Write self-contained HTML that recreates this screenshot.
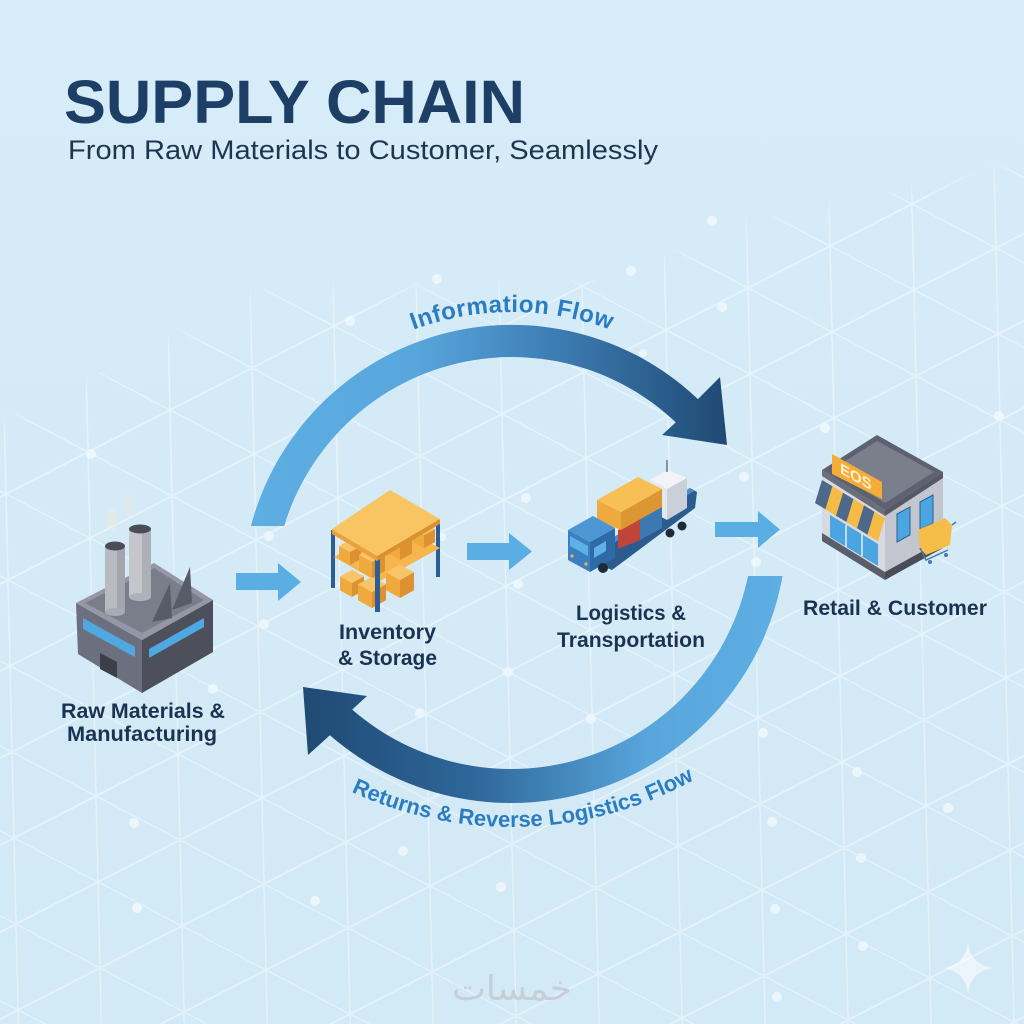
<!DOCTYPE html>
<html><head><meta charset="utf-8"><style>
html,body{margin:0;padding:0;background:#d4ebf7;}
svg{display:block;}
</style></head><body>
<svg width="1024" height="1024" viewBox="0 0 1024 1024" xmlns="http://www.w3.org/2000/svg">
<defs>
  <linearGradient id="bg" x1="0" y1="0" x2="0" y2="1">
    <stop offset="0" stop-color="#d6ecf8"/><stop offset="1" stop-color="#d2e9f6"/>
  </linearGradient>
  <pattern id="lat" patternUnits="userSpaceOnUse" x="0" y="0" width="100" height="100" patternTransform="matrix(0.84,0.44,0.02,0.86,508,672)">
    <path d="M0 0H100M0 100H100M0 0V100M100 0V100M0 100L100 0" stroke="#ffffff" stroke-width="1.6" fill="none"/>
  </pattern>
  <filter id="blur" x="-0.1" y="-0.1" width="1.2" height="1.2"><feGaussianBlur stdDeviation="7"/></filter>
  <mask id="fadeM" maskUnits="userSpaceOnUse" x="0" y="0" width="1024" height="1024">
    <rect width="1024" height="1024" fill="#000"/>
    <polygon points="-40,440 0,428 262,290 440,286 631,280 712,230 968,178 1064,150 1064,1064 -40,1064" fill="#fff" filter="url(#blur)"/>
  </mask>
  <linearGradient id="g1" gradientUnits="userSpaceOnUse" x1="250" y1="0" x2="727" y2="0">
    <stop offset="0" stop-color="#5eaee3"/><stop offset="0.35" stop-color="#58a6dc"/><stop offset="0.62" stop-color="#3f7fb7"/><stop offset="1" stop-color="#1f4a73"/>
  </linearGradient>
  <linearGradient id="g2" gradientUnits="userSpaceOnUse" x1="303" y1="0" x2="783" y2="0">
    <stop offset="0" stop-color="#1f4a73"/><stop offset="0.35" stop-color="#2e6699"/><stop offset="0.72" stop-color="#58a6dc"/><stop offset="1" stop-color="#5eaee3"/>
  </linearGradient>
  <path id="tp1" d="M246.1 498.2 A283 283 0 0 1 777.9 498.2"/>
  <path id="tp2" d="M182.8 637.5 A379 379 0 0 0 839.2 637.5"/>
</defs>

<rect width="1024" height="1024" fill="url(#bg)"/>
<rect width="1024" height="1024" fill="url(#lat)" opacity="0.45" mask="url(#fadeM)"/>

<!-- dots -->
<g fill="#eef8fd" opacity="0.9">
  <circle cx="712" cy="221" r="5"/><circle cx="631" cy="271" r="5"/><circle cx="437" cy="279" r="5"/>
  <circle cx="350" cy="321" r="5"/><circle cx="722" cy="307" r="5"/><circle cx="91" cy="454" r="5"/>
  <circle cx="825" cy="428" r="5"/><circle cx="999" cy="416" r="5"/><circle cx="744" cy="477" r="5"/>
  <circle cx="526" cy="498" r="5"/><circle cx="269" cy="536" r="5"/><circle cx="442" cy="537" r="4"/>
  <circle cx="756" cy="562" r="5"/><circle cx="518" cy="584" r="5"/><circle cx="264" cy="624" r="5"/>
  <circle cx="213" cy="689" r="5"/><circle cx="420" cy="713" r="5"/><circle cx="508" cy="672" r="5"/>
  <circle cx="591" cy="719" r="5"/><circle cx="763" cy="733" r="5"/><circle cx="772" cy="822" r="5"/>
  <circle cx="857" cy="772" r="5"/><circle cx="948" cy="808" r="5"/><circle cx="134" cy="823" r="5"/>
  <circle cx="403" cy="851" r="5"/><circle cx="501" cy="887" r="5"/><circle cx="315" cy="901" r="5"/>
  <circle cx="861" cy="858" r="5"/><circle cx="137" cy="908" r="5"/><circle cx="863" cy="946" r="5"/>
  <circle cx="777" cy="997" r="5"/><circle cx="775" cy="909" r="5"/><circle cx="643" cy="353" r="4"/>
</g>

<!-- title -->
<text x="64" y="123" font-family="Liberation Sans, Arial, sans-serif" font-weight="bold" font-size="61" fill="#1d3f66" textLength="461" lengthAdjust="spacingAndGlyphs">SUPPLY CHAIN</text>
<text x="68" y="159" font-family="Liberation Sans, Arial, sans-serif" font-size="27" fill="#1e3552" textLength="590" lengthAdjust="spacingAndGlyphs">From Raw Materials to Customer, Seamlessly</text>

<!-- information flow arrow -->
<path d="M250.9 526 A270 270 0 0 1 697.9 399.1 L720 377 L727 445 L662 435 L675.8 422.4 A238 238 0 0 0 284.2 526 Z" fill="url(#g1)"/>
<text font-family="Liberation Sans, Arial, sans-serif" font-weight="bold" font-size="24" fill="#2b7dc1" letter-spacing="0.5"><textPath href="#tp1" startOffset="50%" text-anchor="middle">Information Flow</textPath></text>

<!-- returns arrow -->
<path d="M782.6 576 A276 276 0 0 1 329.9 735.3 L308 755 L303 687 L367 696 L352.2 709.6 A242 242 0 0 0 748 576 Z" fill="url(#g2)"/>
<text font-family="Liberation Sans, Arial, sans-serif" font-weight="bold" font-size="22" fill="#2b7dc1"><textPath href="#tp2" startOffset="410" text-anchor="middle">Returns &amp; Reverse Logistics Flow</textPath></text>

<!-- small arrows -->
<g fill="#5aaee3">
  <polygon points="236,573 278,573 278,563 301,582 278,601 278,590 236,590"/>
  <polygon points="467,543 509,543 509,533 532,551.5 509,570 509,560 467,560"/>
  <polygon points="715,522 758,522 758,511 780,529.5 758,548 758,537 715,537"/>
</g>

<!-- factory -->
<g>
  <ellipse cx="112" cy="520" rx="5" ry="12" fill="#ece9e0" opacity="0.55"/>
  <ellipse cx="128" cy="505" rx="5" ry="12" fill="#ece9e0" opacity="0.5"/>
  <polygon points="76,603 142,640 142,693 78,654" fill="#6c6f7d"/>
  <polygon points="142,640 213,600 213,652 142,693" fill="#4d4f5b"/>
  <polygon points="76,603 154,563 213,600 142,640" fill="#9597a4"/>
  <polygon points="85,603 154,568 204,600 142,633" fill="#7a7d8a"/>
  <polygon points="83,618 135,647 135,657 83,629" fill="#4fa8e2"/>
  <polygon points="149,649 204,618 204,627 149,658" fill="#4fa8e2"/>
  <polygon points="100,653 117,662 117,678 100,669" fill="#3c3e48"/>
  <rect x="105" y="546" width="20" height="66" fill="#b9bbc2"/>
  <rect x="117" y="546" width="8" height="66" fill="#a4a6ae"/>
  <ellipse cx="115" cy="612" rx="10" ry="4" fill="#a9abb3"/>
  <ellipse cx="115" cy="546" rx="10" ry="4.5" fill="#4a4d57"/>
  <rect x="129" y="529" width="22" height="68" fill="#c4c6cc"/>
  <rect x="142" y="529" width="9" height="68" fill="#aeb0b8"/>
  <ellipse cx="140" cy="597" rx="11" ry="4" fill="#b0b2ba"/>
  <ellipse cx="140" cy="529" rx="11" ry="4.5" fill="#4a4d57"/>
  <polygon points="152,622 170,583 172,618" fill="#585b68"/>
  <polygon points="172,610 190,567 192,603" fill="#585b68"/>
</g>

<!-- inventory shelf -->
<g>
  <rect x="331" y="530" width="4" height="58" fill="#2c5d96"/>
  <rect x="436" y="520" width="4" height="57" fill="#2c5d96"/>
  <polygon points="334,557 392,524 440,548 378,582" fill="#f5b64e"/>
  <polygon points="352,597 352,583 340,576.4 340,590.4" fill="#f0a93c"/><polygon points="352,597 352,583 364,576.4 364,590.4" fill="#de9130"/><polygon points="352,583 340,576.4 352,569.8 364,576.4" fill="#f7c46a"/>
  <polygon points="400,598 400,580 386,572.3 386,590.3" fill="#f0a93c"/><polygon points="400,598 400,580 414,572.3 414,590.3" fill="#de9130"/><polygon points="400,580 386,572.3 400,564.6 414,572.3" fill="#f7c46a"/>
  <polygon points="372,608 372,592 358,584.3 358,600.3" fill="#f0a93c"/><polygon points="372,608 372,592 386,584.3 386,600.3" fill="#de9130"/><polygon points="372,592 358,584.3 372,576.6 386,584.3" fill="#f7c46a"/>
  <polygon points="350,565 350,552 339,546 339,559" fill="#f0a93c"/><polygon points="350,565 350,552 361,546 361,559" fill="#de9130"/><polygon points="350,552 339,546 350,540 361,546" fill="#f7c46a"/>
  <polygon points="424,548 424,535 413,529 413,542" fill="#f0a93c"/><polygon points="424,548 424,535 435,529 435,542" fill="#de9130"/><polygon points="424,535 413,529 424,522.9 435,529" fill="#f7c46a"/>
  <polygon points="400,560 400,546 388,539.4 388,553.4" fill="#f0a93c"/><polygon points="400,560 400,546 412,539.4 412,553.4" fill="#de9130"/><polygon points="400,546 388,539.4 400,532.8 412,539.4" fill="#f7c46a"/>
  <polygon points="372,578 372,562 359,554.9 359,570.9" fill="#f0a93c"/><polygon points="372,578 372,562 385,554.9 385,570.9" fill="#de9130"/><polygon points="372,562 359,554.9 372,547.8 385,554.9" fill="#f7c46a"/>
  <rect x="375" y="556" width="5" height="56" fill="#2c5d96"/>
  <polygon points="332,529 377,556 377,561 332,534" fill="#e8a23d"/>
  <polygon points="377,556 440,519 440,524 377,561" fill="#d9922f"/>
  <polygon points="332,529 390,490 440,519 377,556" fill="#f9c462"/>
</g>

<!-- truck / ship -->
<g>
  <polygon points="597,548 690,488 697,492 695,508 612,570 600,565" fill="#2c5b8e"/>
  <polygon points="597,548 690,488 694,491 600,552" fill="#4a8ccc"/>
  <circle cx="670" cy="533" r="4.5" fill="#1e2a38"/>
  <circle cx="682" cy="526" r="4.5" fill="#1e2a38"/>
  <polygon points="650,480 667,489 667,520 650,511" fill="#e3e7ee"/>
  <polygon points="667,489 687,478 687,508 667,520" fill="#c9d0da"/>
  <polygon points="650,480 668,470 687,478 667,489" fill="#f1f3f6"/>
  <line x1="667" y1="472" x2="667" y2="460" stroke="#8a93a0" stroke-width="2"/>
  <polygon points="640,519 662,507 662,528 640,540" fill="#3b79b2"/>
  <polygon points="618,530 640,519 640,540 618,549" fill="#c0443a"/>
  <polygon points="597,500 621,512 621,530 597,520" fill="#eeaa3f"/>
  <polygon points="621,512 662,489 662,507 621,530" fill="#dc9634"/>
  <polygon points="597,500 638,477 662,489 621,512" fill="#f7bf55"/>
  <polygon points="590,572 590,542 615,528 615,558" fill="#2e6aa6"/>
  <polygon points="590,572 590,542 568,530 568,560" fill="#3a7fc0"/>
  <polygon points="590,542 568,530 593,516 615,528" fill="#4e95d4"/>
  <polygon points="588,546 570,536 570,546 588,556" fill="#5fb0e6"/>
  <polygon points="594,548 606,541 606,551 594,558" fill="#5fb0e6"/>
  <circle cx="572" cy="556" r="1.6" fill="#f6b544"/><circle cx="586" cy="564" r="1.6" fill="#f6b544"/>
  <circle cx="603" cy="568" r="5" fill="#1e2a38"/>
</g>

<!-- store -->
<g>
  <polygon points="822,470 885,510 885,578 822,538" fill="#d8dae0"/>
  <polygon points="885,510 943,472 943,545 885,578" fill="#c3c6ce"/>
  <polygon points="822,533 885,572 885,580 822,541" fill="#5a5d6a"/>
  <polygon points="885,572 943,540 943,548 885,580" fill="#4a4c57"/>
  <polygon points="822,470 885,510 885,516 822,476" fill="#6a6d7a"/>
  <polygon points="885,510 943,472 943,478 885,516" fill="#555866"/>
  <polygon points="822,470 877,435 943,472 885,510" fill="#5e6170"/>
  <polygon points="831,470 877,441 934,472 885,503" fill="#7b7e8b"/>
  <polygon points="830,515 878,544 878,566 830,537" fill="#4aa5e0"/>
  <g stroke="#e8eef4" stroke-width="1.5"><line x1="846" y1="525" x2="846" y2="547"/><line x1="862" y1="534" x2="862" y2="556"/></g>
  <polygon points="822,480 832.5,486.3 825.5,509.3 815,503" fill="#4d6888"/>
  <polygon points="832.5,486.3 843,492.7 836,515.7 825.5,509.3" fill="#f6bb45"/>
  <polygon points="843,492.7 853.5,499 846.5,522 836,515.7" fill="#4d6888"/>
  <polygon points="853.5,499 864,505.3 857,528.3 846.5,522" fill="#f6bb45"/>
  <polygon points="864,505.3 874.5,511.7 867.5,534.7 857,528.3" fill="#4d6888"/>
  <polygon points="874.5,511.7 885,518 878,541 867.5,534.7" fill="#f6bb45"/>
  <polygon points="897,514 910,507 910,535 897,542" fill="#4aa5e0" stroke="#2f5f92" stroke-width="1"/>
  <polygon points="920,502 933,495 933,523 920,530" fill="#4aa5e0" stroke="#2f5f92" stroke-width="1"/>
  <polygon points="832,454 882,482 882,499 832,474" fill="#f5ad38"/>
  <text transform="matrix(1,0.55,0,1,0,0)" x="840" y="11" font-family="Liberation Sans, Arial, sans-serif" font-weight="bold" font-size="15" fill="#fff3d6">EOS</text>
  <polygon points="918,530 945,518 952,525 950,545 926,555 920,548" fill="#f6bd48"/>
  <path d="M920,548 L926,560 L948,550 M952,525 L956,522" stroke="#4b78a8" stroke-width="1.5" fill="none"/>
  <circle cx="930" cy="562" r="2" fill="#4b78a8"/><circle cx="946" cy="555" r="2" fill="#4b78a8"/>
</g>

<!-- labels -->
<g font-family="Liberation Sans, Arial, sans-serif" font-weight="bold" font-size="21" fill="#1b3352">
  <text x="61" y="718" textLength="164" lengthAdjust="spacingAndGlyphs">Raw Materials &amp;</text>
  <text x="67" y="741" textLength="150" lengthAdjust="spacingAndGlyphs">Manufacturing</text>
  <text x="339" y="639" textLength="97" lengthAdjust="spacingAndGlyphs">Inventory</text>
  <text x="338" y="665" textLength="99" lengthAdjust="spacingAndGlyphs">&amp; Storage</text>
  <text x="576" y="620" textLength="110" lengthAdjust="spacingAndGlyphs">Logistics &amp;</text>
  <text x="557" y="647" textLength="148" lengthAdjust="spacingAndGlyphs">Transportation</text>
  <text x="803" y="615" textLength="184" lengthAdjust="spacingAndGlyphs">Retail &amp; Customer</text>
</g>

<!-- sparkle -->
<path d="M968,943 Q971,965 993,968 Q971,971 968,993 Q965,971 943,968 Q965,965 968,943 Z" fill="#ffffff" opacity="0.55"/>

<!-- watermark -->
<text x="512" y="1000" text-anchor="middle" font-family="DejaVu Sans, sans-serif" font-size="34" fill="#c6cfd5" textLength="120" lengthAdjust="spacingAndGlyphs">خمسات</text>
</svg>
</body></html>
